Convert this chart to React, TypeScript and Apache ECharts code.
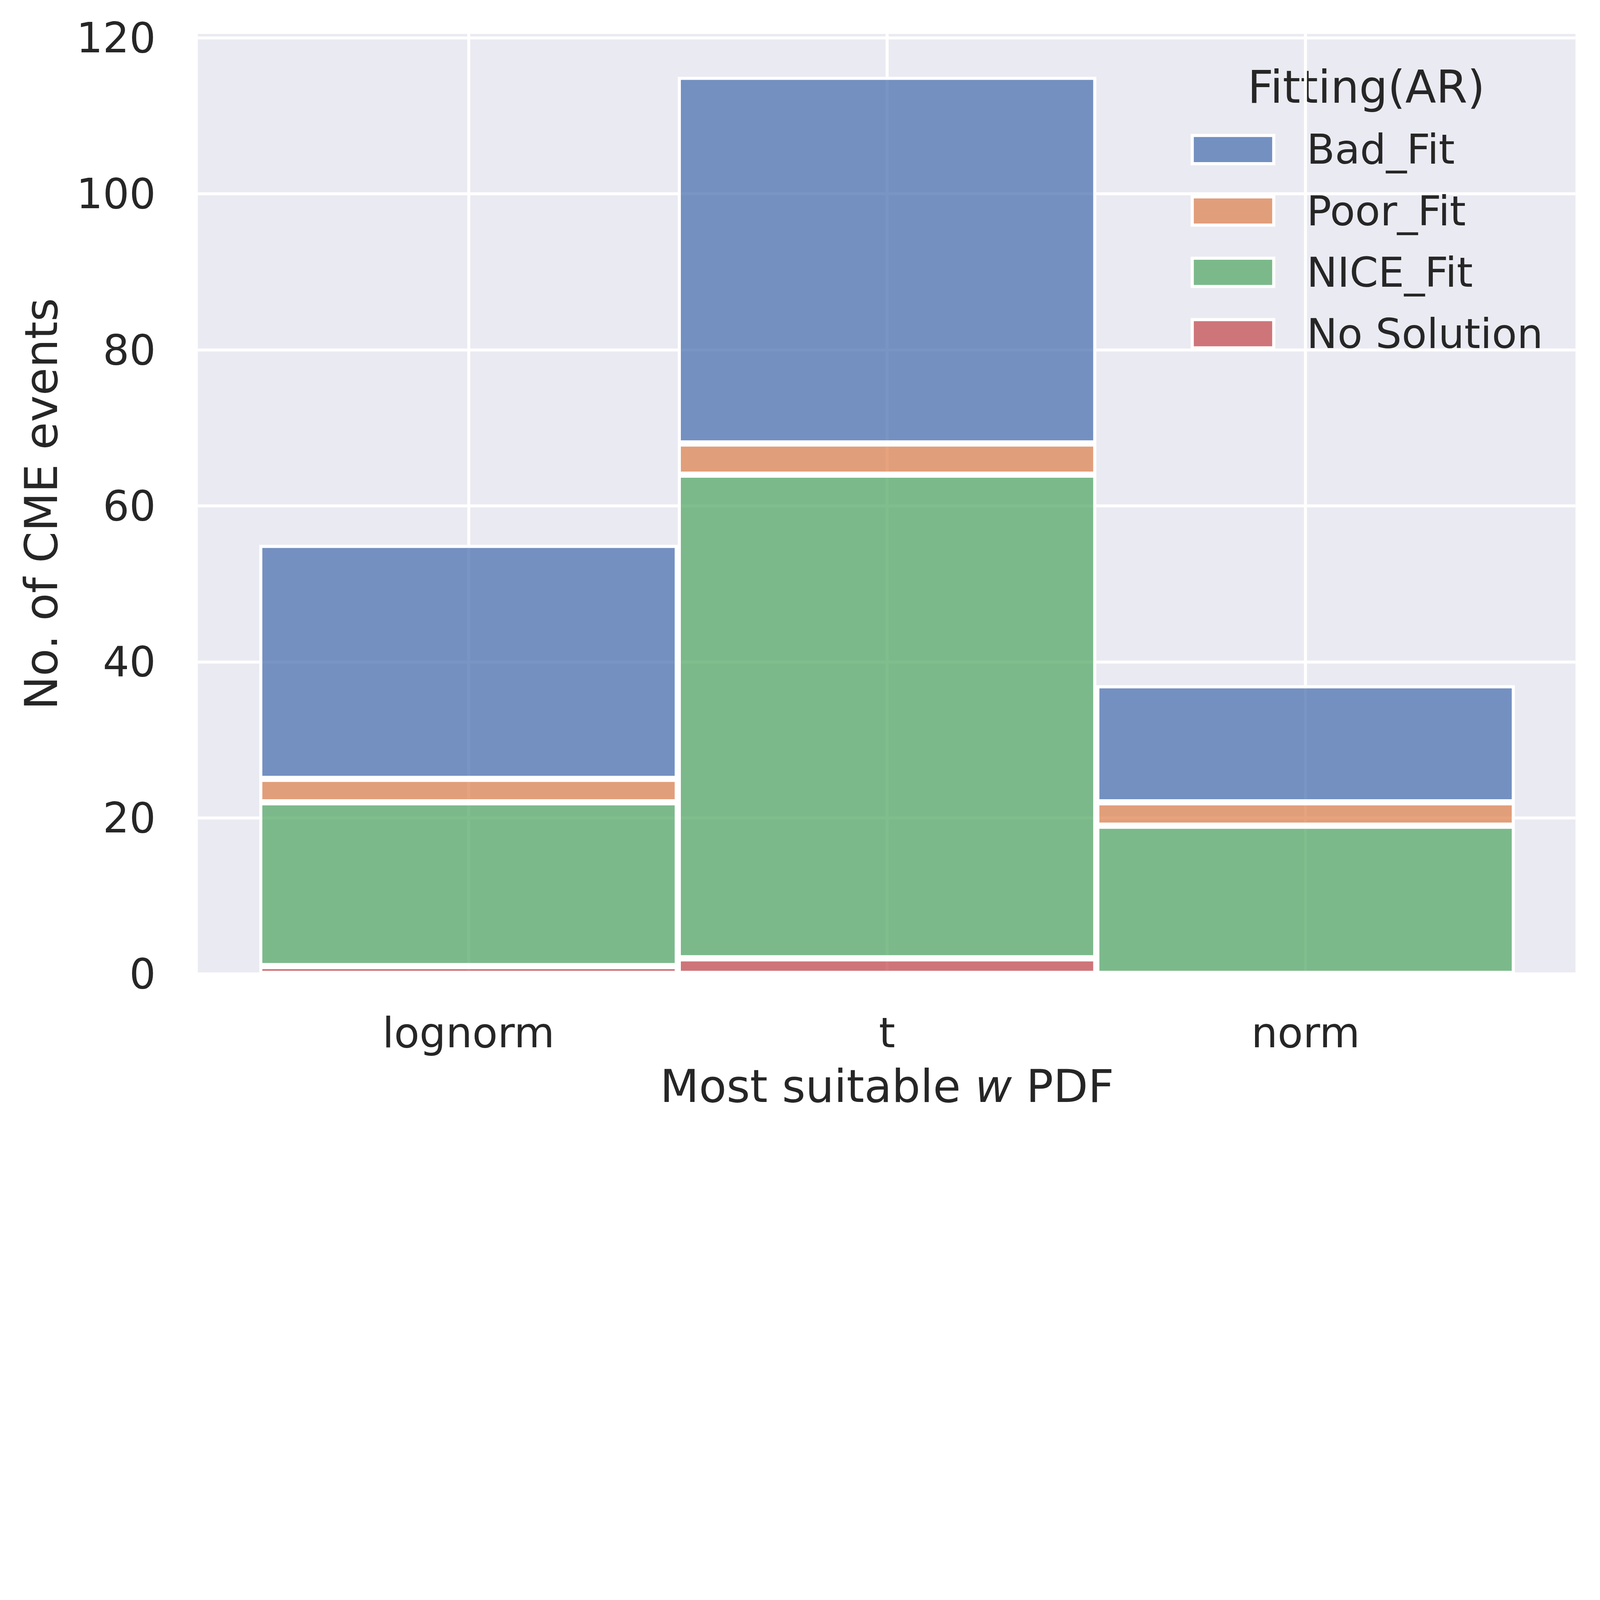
import React, { useEffect, useRef, useState } from "react";
import * as echarts from "echarts";

// ---- data ----
const categories = ["lognorm", "t", "norm"];
const noSolution = [1, 2, 0];
const niceFit = [21, 62, 19];
const poorFit = [3, 4, 3];
const badFit = [30, 47, 15];
const legendOrder = ["Bad_Fit", "Poor_Fit", "NICE_Fit", "No Solution"];
const yMax = 120.5;
const yStep = 20;

const FONT = "DejaVu Sans";
const TXT = "#262626";
const W = 6462;
const H = 4579;

const seriesDefs = [
  { name: "No Solution", data: noSolution, color: "rgba(196,78,82,0.75)" },
  { name: "NICE_Fit", data: niceFit, color: "rgba(85,168,104,0.75)" },
  { name: "Poor_Fit", data: poorFit, color: "rgba(221,132,82,0.75)" },
  { name: "Bad_Fit", data: badFit, color: "rgba(76,114,176,0.75)" },
];

function getScale() {
  if (typeof window === "undefined") return 1;
  return Math.min(1, window.innerWidth / W, window.innerHeight / H);
}

export default function App() {
  const ref = useRef<HTMLDivElement>(null);
  const [s] = useState(getScale);
  useEffect(() => {
    document.body.style.margin = "0";
    const p = (v: number) => v * s;
    const chart = echarts.init(ref.current as HTMLDivElement, null, { renderer: "svg" });
    const option: any = {
      animation: false,
      backgroundColor: "#ffffff",
      textStyle: { fontFamily: FONT, color: TXT },
      grid: [
        { left: p(799), right: p(99), top: p(137), bottom: p(645), show: true, backgroundColor: "#eaeaf2", borderWidth: 0 },
        { left: p(1047), right: p(344), top: p(137), bottom: p(645), show: false },
      ],
      xAxis: [
        { gridIndex: 0, type: "value", min: 0, max: 1, show: false },
        {
          gridIndex: 1,
          type: "category",
          data: categories,
          boundaryGap: true,
          axisLine: { show: false },
          axisTick: { show: false },
          axisLabel: { interval: 0, margin: p(154), fontSize: p(168), color: TXT, fontFamily: FONT },
          splitLine: { show: true, alignWithLabel: true, lineStyle: { color: "#ffffff", width: p(12) } },
          name: "{n|Most suitable }{i|w}{n| PDF}",
          nameLocation: "middle",
          nameGap: p(363),
          nameTextStyle: {
            fontSize: p(182),
            color: TXT,
            fontFamily: FONT,
            rich: {
              n: { fontSize: p(182), color: TXT, fontFamily: FONT },
              i: { fontSize: p(182), color: TXT, fontFamily: FONT, fontStyle: "italic" },
            },
          },
        },
      ],
      yAxis: [
        {
          gridIndex: 0,
          type: "value",
          min: 0,
          max: yMax,
          interval: yStep,
          axisLine: { show: false },
          axisTick: { show: false },
          axisLabel: {
            margin: p(170),
            fontSize: p(168),
            color: TXT,
            fontFamily: FONT,
            showMaxLabel: false,
            formatter: (v: number) => (v % yStep === 0 ? String(v) : ""),
          },
          splitLine: { show: true, showMaxLine: false, lineStyle: { color: "#ffffff", width: p(12) } },
          name: "No. of CME events",
          nameLocation: "middle",
          nameGap: p(541),
          nameTextStyle: { fontSize: p(182), color: TXT, fontFamily: FONT },
        },
        { gridIndex: 1, type: "value", min: 0, max: yMax, show: false },
      ],
      legend: {
        data: legendOrder,
        orient: "vertical",
        left: p(4809),
        top: p(521),
        padding: 0,
        icon: "rect",
        itemWidth: p(329),
        itemHeight: p(114),
        itemGap: p(82),
        itemStyle: { borderColor: "#ffffff", borderWidth: p(12.5) },
        textStyle: {
          fontSize: p(166),
          color: TXT,
          fontFamily: FONT,
          lineHeight: p(166),
          padding: [0, 0, 0, p(125)],
        },
      },
      graphic: [
        {
          type: "text",
          x: p(5518),
          y: p(352),
          style: {
            text: "Fitting(AR)",
            fontSize: p(182),
            fontFamily: FONT,
            fill: TXT,
            align: "center",
            verticalAlign: "middle",
          },
        },
      ],
      series: seriesDefs.map((d) => ({
        name: d.name,
        type: "bar",
        stack: "total",
        xAxisIndex: 1,
        yAxisIndex: 1,
        barCategoryGap: "0%",
        clip: false,
        data: d.data,
        itemStyle: { color: d.color, borderColor: "#ffffff", borderWidth: p(12.5) },
      })),
    };
    chart.setOption(option);
    return () => chart.dispose();
  }, [s]);
  return <div ref={ref} style={{ width: Math.floor(W * s), height: Math.floor(H * s) }} />;
}
